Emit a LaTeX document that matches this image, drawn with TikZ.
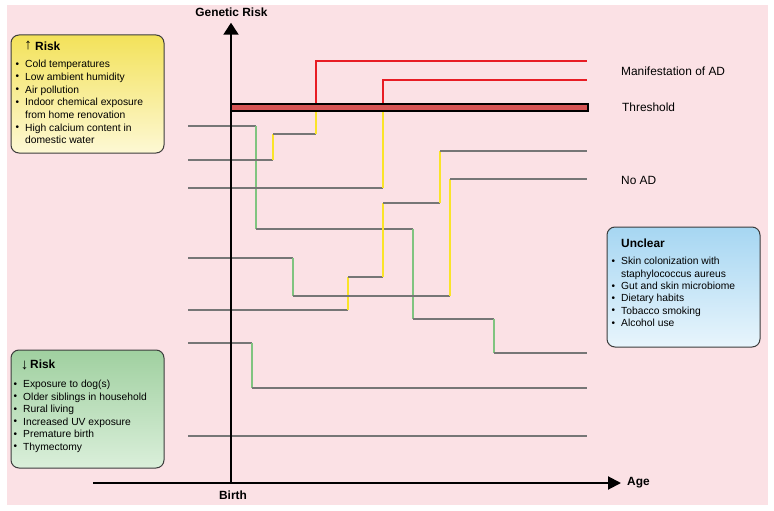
\documentclass[tikz,border=0pt]{standalone}
\usepackage{fontspec}
\setmainfont{Liberation Sans}
\usetikzlibrary{arrows.meta}
\definecolor{bgpink}{RGB}{251,225,229}
\definecolor{lgray}{RGB}{118,118,118}
\definecolor{lred}{RGB}{232,28,36}
\definecolor{lyellow}{RGB}{250,228,40}
\definecolor{lgreen}{RGB}{128,196,128}
\definecolor{barred}{RGB}{214,84,84}
\definecolor{boxedge}{RGB}{60,60,60}
\definecolor{ytop}{RGB}{243,226,90}
\definecolor{ybot}{RGB}{253,248,212}
\definecolor{gtop}{RGB}{160,208,160}
\definecolor{gbot}{RGB}{218,239,218}
\definecolor{btop}{RGB}{166,214,242}
\definecolor{bbot}{RGB}{232,245,252}
\tikzset{
  gl/.style={draw=lgray, line width=2.4pt},
  rl/.style={draw=lred, line width=2pt},
  yl/.style={draw=lyellow, line width=2pt},
  grl/.style={draw=lgreen, line width=2pt},
  axis/.style={draw=black, line width=2pt},
  infobox/.style={draw=boxedge, line width=1pt, rounded corners=8pt},
  item/.style={font=\fontsize{10.3}{12}\selectfont, inner sep=0pt, anchor=base west},
  bul/.style={font=\fontsize{10}{12}\selectfont, inner sep=0pt, anchor=base west},
  arr/.style={font=\fontsize{15}{16}\selectfont, inner sep=0pt, anchor=base},
  lbl/.style={font=\fontsize{11.9}{14}\selectfont, inner sep=0pt, anchor=base west},
  ttl/.style={font=\bfseries\fontsize{11.9}{14}\selectfont, inner sep=0pt, anchor=base west},
}
\begin{document}
\begin{tikzpicture}[x=1pt,y=-1pt]
\useasboundingbox (0,0) rectangle (774,511);
\fill[bgpink] (7,5) rectangle (768,505);

% boxes
\shadedraw[infobox, top color=ytop, bottom color=ybot] (11,35) rectangle (164,153);
\shadedraw[infobox, top color=gtop, bottom color=gbot] (11,350) rectangle (164,468);
\shadedraw[infobox, top color=btop, bottom color=bbot] (607,227) rectangle (760,347);

% yellow box text
\node[arr] (yarr) at (28,49.5) {↑};
\node[ttl] (ytitle) at (35,50.3) {Risk};
\foreach \t/\yy/\b [count=\i] in {Cold temperatures/67.6/1, Low ambient humidity/80.3/1, Air pollution/93/1, Indoor chemical exposure/105.7/1, from home renovation/118.4/0, High calcium content in/131.1/1, domestic water/143.8/0}{
  \node[item] (yi\i) at (25,\yy) {\t};
  \ifnum\b=1 \node[bul] (yb\i) at (15.5,\yy-0.3) {•};\fi
}

% green box text
\node[arr] (garr) at (24.5,369) {↓};
\node[ttl] (gtitle) at (30,368.3) {Risk};
\foreach \t/\yy [count=\i] in {Exposure to dog(s)/387.6, Older siblings in household/400.1, Rural living/412.6, Increased UV exposure/425.1, Premature birth/437.6, Thymectomy/450.1}{
  \node[item] (gi\i) at (23,\yy) {\t};
  \node[bul] (gb\i) at (13.5,\yy-0.3) {•};
}

% blue box text
\node[ttl] (btitle) at (621,247.3) {Unclear};
\foreach \t/\yy/\b [count=\i] in {Skin colonization with/264.6/1, staphylococcus aureus/277/0, Gut and skin microbiome/289.4/1, Dietary habits/301.8/1, Tobacco smoking/314.2/1, Alcohol use/326.6/1}{
  \node[item] (bi\i) at (621,\yy) {\t};
  \ifnum\b=1 \node[bul] (bb\i) at (611.5,\yy-0.3) {•};\fi
}

% path A (decreasing, no AD)
\draw[gl] (188,126) -- (256,126);
\draw[grl] (256,126) -- (256,229);
\draw[gl] (256,229) -- (413,229);
\draw[grl] (413,229) -- (413,319);
\draw[gl] (413,319) -- (494,319);
\draw[grl] (494,319) -- (494,353);
\draw[gl] (494,353) -- (587,353);

% path D
\draw[gl] (188,310) -- (348,310);
\draw[yl] (348,310) -- (348,277);
\draw[gl] (348,277) -- (383,277);
\draw[yl] (383,277) -- (383,203);
\draw[gl] (383,203) -- (440,203);
\draw[yl] (440,203) -- (440,151);
\draw[gl] (440,151) -- (587,151);

% path E
\draw[gl] (188,258) -- (293,258);
\draw[grl] (293,258) -- (293,296);
\draw[gl] (293,296) -- (450,296);
\draw[yl] (450,296) -- (450,179);
\draw[gl] (450,179) -- (587,179);

% path F
\draw[gl] (188,343) -- (252,343);
\draw[grl] (252,343) -- (252,388);
\draw[gl] (252,388) -- (587,388);

% path G
\draw[gl] (188,436) -- (587,436);

% path B (AD)
\draw[gl] (188,160) -- (273,160);
\draw[yl] (273,160) -- (273,134);
\draw[gl] (273,134) -- (316,134);
\draw[yl] (316,134) -- (316,110);
\draw[rl] (316,105) -- (316,61) -- (587,61);

% path C (AD)
\draw[gl] (188,188) -- (383,188);
\draw[yl] (383,188) -- (383,110);
\draw[rl] (383,105) -- (383,80) -- (587,80);

% threshold bar
\draw[fill=barred, draw=black, line width=1.5pt] (231,104) rectangle (588,111);

% axes
\coordinate (origin) at (231,483);
\coordinate (ytip) at (231,22.7);
\coordinate (xstart) at (93,483);
\coordinate (xtip) at (621,483);
\draw[axis, -{Triangle[length=12pt,width=15pt]}] (origin) -- (ytip);
\draw[axis, -{Triangle[length=13pt,width=13pt]}] (xstart) -- (xtip);

% labels
\node[ttl, anchor=base] (gr) at (231.5,16.5) {Genetic Risk};
\node[ttl, anchor=base] (birth) at (233,499.3) {Birth};
\node[ttl] (age) at (627,485.5) {Age};
\node[lbl] (man) at (621,76) {Manifestation of AD};
\node[lbl] (thr) at (622,111.3) {Threshold};
\node[lbl] (noad) at (621,184) {No AD};
\end{tikzpicture}
\end{document}
